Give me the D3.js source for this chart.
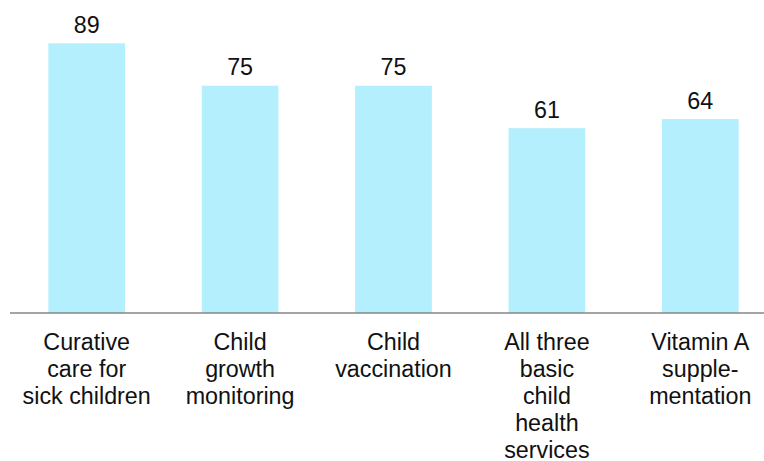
<!DOCTYPE html>
<html><head><meta charset="utf-8">
<script src="https://cdn.jsdelivr.net/npm/d3@7"></script>
<style>html,body{margin:0;padding:0;background:#fff;overflow:hidden}</style>
</head><body>
<svg id="c" width="764" height="461"></svg>
<script>
const categories = [
  ["Curative", "care for", "sick children"],
  ["Child", "growth", "monitoring"],
  ["Child", "vaccination"],
  ["All three", "basic", "child", "health", "services"],
  ["Vitamin A", "supple-", "mentation"]
];
const values = [89, 75, 75, 61, 64];

const svg = d3.select("#c");
const font = "Liberation Sans, Arial, sans-serif";
const x = d3.scaleBand().domain(d3.range(values.length)).range([10, 777]).paddingInner(0.5).paddingOuter(0.25);
const y = d3.scaleLinear().domain([0, 100]).range([313, 10]);

svg.selectAll("rect.bar").data(values).join("rect")
  .attr("class", "bar")
  .attr("x", (d, i) => x(i)).attr("width", x.bandwidth())
  .attr("y", d => y(d)).attr("height", d => y(0) - y(d))
  .attr("fill", "#b3effc");

svg.append("line").attr("x1", 10).attr("x2", 764).attr("y1", y(0)).attr("y2", y(0))
  .attr("stroke", "#868686").attr("stroke-width", 1.5);

svg.selectAll("text.val").data(values).join("text")
  .attr("class", "val")
  .attr("x", (d, i) => x(i) + x.bandwidth() / 2)
  .attr("y", d => y(d) - 10.5)
  .attr("text-anchor", "middle")
  .attr("font-family", font).attr("font-size", 23.3).attr("fill", "#111")
  .text(d => d);

const g = svg.selectAll("text.cat").data(categories).join("text")
  .attr("class", "cat")
  .attr("text-anchor", "middle")
  .attr("font-family", font).attr("font-size", 23.3).attr("fill", "#111");
g.each(function(lines, i) {
  d3.select(this).selectAll("tspan").data(lines).join("tspan")
    .attr("x", x(i) + x.bandwidth() / 2)
    .attr("y", (d, j) => y(0) + 37 + j * 27)
    .text(d => d);
});
</script>
</body></html>
